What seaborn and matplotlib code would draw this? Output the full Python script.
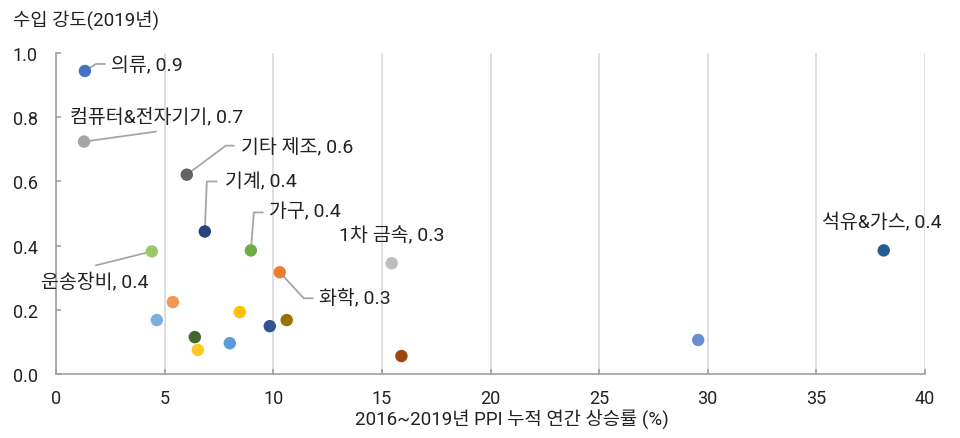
import matplotlib
matplotlib.use("Agg")
import matplotlib.pyplot as plt
from matplotlib.transforms import Affine2D
import seaborn as sns
import pandas as pd

# ---- data ----
ids = [f"p{i}" for i in range(19)]
names = ["의류", "컴퓨터&전자기기", "기타 제조", "기계", "가구", "운송장비", "화학", "1차 금속", "석유&가스",
         "", "", "", "", "", "", "", "", "", ""]
ppi = [1.33, 1.29, 6.02, 6.85, 8.97, 4.41, 10.3, 15.45, 38.1,
       5.38, 4.64, 8.46, 6.39, 6.53, 8.0, 9.84, 10.62, 15.9, 29.56]
intensity = [0.944, 0.724, 0.621, 0.444, 0.385, 0.382, 0.317, 0.345, 0.385,
             0.224, 0.168, 0.193, 0.115, 0.075, 0.096, 0.149, 0.168, 0.056, 0.106]
label_values = ["0.9", "0.7", "0.6", "0.4", "0.4", "0.4", "0.3", "0.3", "0.4",
                "", "", "", "", "", "", "", "", "", ""]
colors = ["#4472C4", "#A5A5A5", "#636363", "#264478", "#70AD47", "#9BC86B", "#ED7D31", "#BDBDBD", "#255E91",
          "#F1975A", "#7CAFDD", "#FFC000", "#43682B", "#FFCA28", "#5B9BD5", "#2F5597", "#997300", "#9E480E", "#698ED0"]
x_ticks = [0, 5, 10, 15, 20, 25, 30, 35, 40]
y_ticks = [0.0, 0.2, 0.4, 0.6, 0.8, 1.0]

# label layout (pixel offsets from the point): text position, leader line vertices
text_off = {0: (26, 6), 1: (-14, 26), 2: (54, 29), 3: (20, 50), 4: (18, 39),
            5: (-111, -30), 6: (39, -25), 7: (-53, 28), 8: (-62, 29)}
line_off = {0: [(0, 0), (11, 7), (20, 7)], 1: [(0, 0), (72, 10)], 2: [(0, 0), (39, 29), (47, 29)],
            3: [(0, 0), (2, 50), (12, 50)], 4: [(0, 0), (3, 38), (12, 38)], 5: [(0, 0), (-56, -14)],
            6: [(0, 0), (24, -26), (33, -26)]}

df = pd.DataFrame({"id": ids, "x": ppi, "y": intensity})

sns.set_theme(style="white")
plt.rcParams['font.family'] = ['Roboto', 'Noto Sans CJK KR', 'DejaVu Sans']

TXT = "#222222"
FS = 13.5

fig = plt.figure(figsize=(9.6, 4.39), dpi=100)
ax = fig.add_axes([56 / 960, 1 - 375 / 439, 869 / 960, 321 / 439])

ax.set_xlim(0, 40)
ax.set_ylim(0, 1.0)
ax.set_xticks(x_ticks)
ax.set_yticks(y_ticks)
ax.set_xticklabels([str(t) for t in x_ticks])
ax.set_yticklabels([f"{t:.1f}" for t in y_ticks])
ax.xaxis.grid(True, color="#D9D9D9", linewidth=1.2)
ax.yaxis.grid(False)
ax.set_axisbelow(True)
for s in ["top", "right"]:
    ax.spines[s].set_visible(False)
for s in ["left", "bottom"]:
    ax.spines[s].set_color("#A0A0A0")
    ax.spines[s].set_linewidth(1.2)
ax.tick_params(axis="both", which="both", length=3.6, width=1.2, color="#A0A0A0",
               labelsize=13, labelcolor=TXT, direction="in", left=True, bottom=True)
ax.tick_params(axis="y", pad=13)
ax.tick_params(axis="x", pad=11)

sns.scatterplot(data=df, x="x", y="y", hue="id", palette=colors, s=80, edgecolor="none",
                legend=False, ax=ax, zorder=3)
ax.set_xlabel("")
ax.set_ylabel("")
fig.text(512 / 960, 1 - 420 / 439, "2016~2019년 PPI 누적 연간 상승률 (%)", fontsize=FS, color=TXT,
         ha="center", va="center")
fig.text(13 / 960, 1 - 20 / 439, "수입 강도(2019년)", fontsize=FS, color=TXT, va="center", ha="left")

fig.canvas.draw()
for i, nm in enumerate(names):
    if not nm:
        continue
    px, py = ax.transData.transform((ppi[i], intensity[i]))
    if i in line_off:
        verts = line_off[i]
        ax.plot([v[0] for v in verts], [v[1] for v in verts], color="#A6A6A6", linewidth=1.3,
                transform=Affine2D().translate(px, py), zorder=2, clip_on=False)
    ax.annotate(f"{nm}, {label_values[i]}", xy=(ppi[i], intensity[i]), xytext=text_off[i],
                textcoords="offset pixels", ha="left", va="center", fontsize=14, color=TXT,
                annotation_clip=False)

fig.savefig("out.png", dpi=100)
